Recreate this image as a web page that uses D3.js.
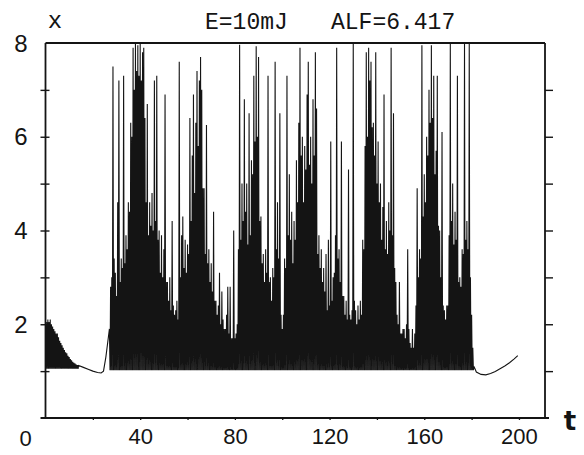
<!DOCTYPE html>
<html>
<head>
<meta charset="utf-8">
<script src="https://cdn.jsdelivr.net/npm/d3@7"></script>
<style>
  html, body { margin: 0; padding: 0; background: #fff; }
  svg { display: block; }
</style>
</head>
<body>
<svg id="chart" width="584" height="455"></svg>
<script>
// Time series x(t) for E = 10 mJ, ALF = 6.417

// Initial damped oscillation: peak values every 0.5 time units from t = 0
const earlyStart = 0;
const earlyPeaks = [
  2.00, 2.05, 2.10, 2.05, 2.10, 2.00, 1.95, 1.90, 1.85, 1.80,
  1.80, 1.72, 1.65, 1.60, 1.55, 1.50, 1.45, 1.40, 1.38, 1.33,
  1.30, 1.26, 1.23, 1.20, 1.18, 1.16, 1.14, 1.13
];
const earlyTrough = 1.05;

// Quiet stretch before the bursting regime: [t, x]
const quietCurve = [
  [14, 1.12], [16, 1.08], [18, 1.04], [20, 1.00], [22, 0.97],
  [23.5, 0.96], [24.5, 1.00], [25.5, 1.30], [26.5, 1.70]
];

// Bursting regime: spike peak values every 0.5 time units from t = 27
const burstStart = 27;
const burstPeaks = [
  // t 27 - 31.5
  1.9, 2.8, 3.0, 7.5, 3.4, 3.1, 2.6, 4.6, 7.2, 2.9,
  // t 32 - 36.5
  3.4, 3.2, 7.3, 3.3, 3.9, 3.6, 4.6, 4.4, 6.3, 6.0,
  // t 37 - 41.5
  7.9, 7.0, 8.0, 7.4, 7.95, 7.3, 8.0, 7.2, 7.8, 7.9,
  // t 42 - 46.5
  6.4, 4.6, 6.7, 3.9, 4.6, 4.1, 4.8, 4.0, 7.2, 4.2,
  // t 47 - 51.5
  7.3, 3.8, 4.0, 3.1, 3.9, 3.0, 3.6, 6.9, 2.9, 2.9,
  // t 52 - 56.5
  2.5, 3.0, 2.3, 4.2, 2.4, 2.2, 2.3, 2.5, 2.1, 7.6,
  // t 57 - 61.5
  3.0, 3.9, 4.3, 3.2, 3.8, 3.1, 3.7, 3.5, 6.4, 4.2,
  // t 62 - 66.5
  5.6, 6.9, 4.8, 6.3, 7.4, 5.8, 7.2, 7.7, 7.0, 4.9,
  // t 67 - 71.5
  4.9, 3.5, 6.25, 3.3, 3.6, 2.9, 3.3, 2.7, 4.4, 2.5,
  // t 72 - 76.5
  2.5, 2.2, 2.4, 3.1, 2.0, 2.7, 2.1, 1.9, 1.9, 2.2,
  // t 77 - 81.5
  2.8, 1.8, 2.8, 1.7, 1.7, 4.0, 1.7, 1.8, 2.0, 3.6,
  // t 82 - 86.5
  7.96, 3.8, 5.0, 4.2, 6.8, 4.4, 5.0, 3.7, 6.5, 3.9,
  // t 87 - 91.5
  5.5, 5.2, 7.3, 5.9, 7.93, 6.0, 7.7, 4.2, 4.3, 3.3,
  // t 92 - 96.5
  3.5, 2.9, 3.6, 3.1, 7.3, 2.9, 3.0, 2.5, 3.2, 3.0,
  // t 97 - 101.5
  7.6, 3.6, 4.6, 3.4, 6.5, 2.2, 1.9, 2.2, 3.4, 3.2,
  // t 102 - 106.5
  7.3, 3.9, 5.2, 3.8, 4.4, 3.3, 4.2, 3.8, 5.5, 4.6,
  // t 107 - 111.5
  6.3, 7.9, 5.6, 6.0, 4.6, 5.8, 5.3, 6.9, 7.6, 5.4,
  // t 112 - 116.5
  6.0, 5.0, 6.8, 5.6, 7.8, 6.6, 3.5, 3.9, 3.2, 3.6,
  // t 117 - 121.5
  2.9, 3.2, 2.7, 3.5, 2.3, 3.8, 2.4, 5.9, 2.5, 3.0,
  // t 122 - 126.5
  3.1, 3.9, 7.9, 3.4, 3.6, 2.9, 5.9, 2.6, 2.6, 2.2,
  // t 127 - 131.5
  2.5, 2.1, 5.3, 2.2, 2.1, 2.3, 8.0, 2.5, 2.3, 2.0,
  // t 132 - 136.5
  2.4, 2.1, 2.5, 2.2, 3.8, 3.6, 5.8, 7.8, 6.0, 7.9,
  // t 137 - 141.5
  7.2, 7.6, 6.2, 6.3, 5.6, 7.8, 5.0, 5.9, 4.6, 5.0,
  // t 142 - 146.5
  3.8, 4.5, 6.9, 3.6, 4.2, 3.5, 4.6, 4.0, 7.9, 3.9,
  // t 147 - 151.5
  6.5, 3.2, 2.9, 2.2, 2.0, 2.9, 1.8, 1.8, 1.9, 1.9,
  // t 152 - 156.5
  1.7, 2.0, 3.6, 1.9, 1.6, 1.5, 1.9, 1.5, 1.8, 2.4,
  // t 157 - 161.5
  4.9, 3.0, 3.6, 3.4, 7.95, 4.3, 5.2, 4.6, 6.0, 5.6,
  // t 162 - 166.5
  7.0, 6.3, 7.95, 6.4, 7.3, 5.2, 5.7, 7.3, 4.1, 4.0,
  // t 167 - 171.5
  3.0, 6.1, 2.4, 2.3, 2.1, 2.4, 2.4, 3.9, 8.0, 4.2,
  // t 172 - 176.5
  5.0, 3.7, 4.4, 3.8, 7.3, 2.9, 3.0, 2.8, 3.6, 3.5,
  // t 177 - 180.5
  8.0, 3.8, 4.2, 3.6, 8.0, 3.0, 2.2, 1.5
];
const burstTrough = 1.02;

// Relaxation after the bursts: [t, x]
const tailCurve = [
  [181, 1.10], [182, 0.98], [184, 0.93], [186, 0.92], [188, 0.95],
  [190, 0.99], [192, 1.05], [194, 1.11], [196, 1.18], [198, 1.26], [199.5, 1.33]
];

// Axis settings
const tDomain = [0, 211];
const xDomain = [0, 8];
const tTickLabels = [40, 80, 120, 160, 200];
const tMinorTicks = [20, 40, 60, 80, 100, 120, 140, 160, 180, 200];
const xTickLabels = [2, 4, 6, 8];
const xMinorTicks = [1, 2, 3, 4, 5, 6, 7];
const titleParts = ["E=10mJ", "ALF=6.417"];

const step = 0.5;
const svg = d3.select("#chart");
const padL = 45.5, padR = 545, padT = 43, padB = 418;

const tScale = d3.scaleLinear().domain(tDomain).range([padL, padR]);
const xScale = d3.scaleLinear().domain(xDomain).range([padB, padT]);

// Assemble the trace: each spike rises to its peak and falls back to the trough
const pts = [];
earlyPeaks.forEach((p, i) => {
  const t = earlyStart + i * step;
  pts.push([t, p]);
  pts.push([t + step / 2, earlyTrough]);
});
quietCurve.forEach(d => pts.push(d));
burstPeaks.forEach((p, i) => {
  const t = burstStart + i * step;
  pts.push([t, p]);
  pts.push([t + step / 2, burstTrough]);
});
tailCurve.forEach(d => pts.push(d));

const ink = "#141414";

// Frame
const frame = svg.append("g").attr("stroke", ink).attr("stroke-width", 1.8).attr("fill", "none");
frame.append("line").attr("x1", padL).attr("x2", padL).attr("y1", padT).attr("y2", padB);
frame.append("line").attr("x1", padL - 5).attr("x2", padR + 4).attr("y1", padB).attr("y2", padB);
frame.append("line").attr("x1", padL).attr("x2", padR).attr("y1", padT).attr("y2", padT);
frame.append("line").attr("x1", padR).attr("x2", padR).attr("y1", padT).attr("y2", padB);

// Left axis: crossing ticks plus labels
const leftAxis = d3.axisLeft(xScale).tickValues(xMinorTicks).tickSize(5).tickFormat("");
svg.append("g").attr("transform", `translate(${padL + 4},0)`).call(leftAxis)
  .call(g => g.select(".domain").remove())
  .call(g => g.selectAll("line").attr("stroke", ink).attr("stroke-width", 1.4).attr("x2", -9));
const leftLabels = d3.axisLeft(xScale).tickValues(xTickLabels).tickSize(0).tickPadding(18);
svg.append("g").attr("transform", `translate(${padL},0)`).call(leftLabels)
  .call(g => g.select(".domain").remove())
  .call(g => g.selectAll("text")
    .attr("font-family", "Liberation Sans, Arial, sans-serif")
    .attr("font-size", 24).attr("fill", ink).attr("dy", "0.34em"));

// Right axis: outward ticks
const rightAxis = d3.axisRight(xScale).tickValues(xMinorTicks).tickSize(8).tickFormat("");
svg.append("g").attr("transform", `translate(${padR},0)`).call(rightAxis)
  .call(g => g.select(".domain").remove())
  .call(g => g.selectAll("line").attr("stroke", ink).attr("stroke-width", 1.4));

// Bottom axis: small ticks and labels
const bottomAxis = d3.axisBottom(tScale).tickValues(tMinorTicks).tickSize(3).tickFormat("");
svg.append("g").attr("transform", `translate(0,${padB - 1})`).call(bottomAxis)
  .call(g => g.select(".domain").remove())
  .call(g => g.selectAll("line").attr("stroke", ink).attr("stroke-width", 1.3));
const bottomLabels = d3.axisBottom(tScale).tickValues(tTickLabels).tickSize(0).tickPadding(10);
svg.append("g").attr("transform", `translate(0,${padB})`).call(bottomLabels)
  .call(g => g.select(".domain").remove())
  .call(g => g.selectAll("text")
    .attr("font-family", "Liberation Sans, Arial, sans-serif")
    .attr("font-size", 22).attr("fill", ink));

// Origin label sits left of the corner
svg.append("text").attr("x", tScale(0) - 20).attr("y", 446)
  .attr("text-anchor", "middle")
  .attr("font-family", "Liberation Sans, Arial, sans-serif")
  .attr("font-size", 22).attr("fill", ink).text("0");

// Axis names
svg.append("text").attr("x", 570).attr("y", 430).attr("text-anchor", "middle")
  .attr("font-family", "DejaVu Sans, sans-serif").attr("font-weight", "bold")
  .attr("font-size", 26).attr("fill", ink).text("t");
svg.append("text").attr("x", 55).attr("y", 28).attr("text-anchor", "middle")
  .attr("font-family", "Liberation Mono, monospace")
  .attr("font-size", 24).attr("fill", ink).text("x");

// Title
svg.append("text").attr("x", 205).attr("y", 29)
  .attr("font-family", "Liberation Mono, monospace")
  .attr("font-size", 23).attr("fill", ink).text(titleParts[0]);
svg.append("text").attr("x", 331).attr("y", 29)
  .attr("font-family", "Liberation Mono, monospace")
  .attr("font-size", 23).attr("fill", ink).text(titleParts[1]);

// Trace
const line = d3.line().x(d => tScale(d[0])).y(d => xScale(d[1]));
svg.append("path").datum(pts)
  .attr("d", line)
  .attr("fill", "none")
  .attr("stroke", ink)
  .attr("stroke-width", 1.1)
  .attr("stroke-linejoin", "miter")
  .attr("stroke-miterlimit", 2);
</script>
</body>
</html>
